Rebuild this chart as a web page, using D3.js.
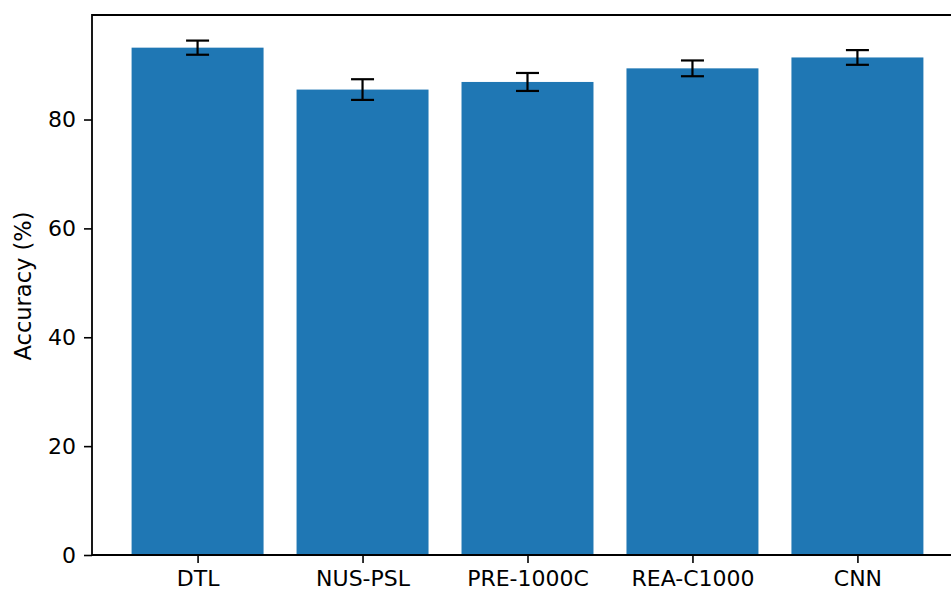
<!DOCTYPE html>
<html>
<head>
<meta charset="utf-8">
<script src="https://cdn.jsdelivr.net/npm/d3@7"></script>
<style>
  body { margin: 0; background: #fff; }
  svg { display: block; font-family: "DejaVu Sans", sans-serif; }
</style>
</head>
<body>
<svg id="vis" width="951" height="590"></svg>
<script>
// data
const methods = ["DTL", "NUS-PSL", "PRE-1000C", "REA-C1000", "CNN"];
const accuracy = [93.2, 85.5, 86.9, 89.4, 91.4];
const errors = [1.3, 1.9, 1.65, 1.45, 1.35];
const yTicks = [0, 20, 40, 60, 80];

const svg = d3.select("#vis");
const plotLeft = 92, plotTop = 15, plotBottom = 555;

// x scale in category units, like matplotlib's bar positions
const x = d3.scaleLinear()
  .domain([-0.64, 4.64])
  .range([plotLeft, plotLeft + 871]);

const y = d3.scaleLinear()
  .domain([0, 99.2])
  .range([plotBottom, plotTop]);

const barW = x(0.4) - x(-0.4);

// bars
svg.append("g")
  .selectAll("rect")
  .data(methods)
  .join("rect")
  .attr("x", (d, i) => x(i) - barW / 2)
  .attr("width", barW)
  .attr("y", (d, i) => y(accuracy[i]))
  .attr("height", (d, i) => plotBottom - y(accuracy[i]))
  .style("fill", "#1f77b4");

// error bars
const eb = svg.append("g")
  .selectAll("g")
  .data(methods)
  .join("g")
  .attr("stroke", "#000")
  .attr("stroke-width", 2.2);

eb.append("line")
  .attr("x1", (d, i) => x(i)).attr("x2", (d, i) => x(i))
  .attr("y1", (d, i) => y(accuracy[i] - errors[i]))
  .attr("y2", (d, i) => y(accuracy[i] + errors[i]));

eb.selectAll(".cap")
  .data((d, i) => [[i, -1], [i, 1]])
  .join("line")
  .attr("class", "cap")
  .attr("x1", d => x(d[0]) - 11.5).attr("x2", d => x(d[0]) + 11.5)
  .attr("y1", d => y(accuracy[d[0]] + d[1] * errors[d[0]]))
  .attr("y2", d => y(accuracy[d[0]] + d[1] * errors[d[0]]));

// axes
const xAxis = d3.axisBottom(x)
  .tickValues(d3.range(methods.length))
  .tickFormat(i => methods[i])
  .tickSize(8)
  .tickPadding(7);

const yAxis = d3.axisLeft(y)
  .tickValues(yTicks)
  .tickSize(8)
  .tickPadding(8);

const gx = svg.append("g")
  .attr("transform", `translate(0,${plotBottom})`)
  .call(xAxis);

const gy = svg.append("g")
  .attr("transform", `translate(${plotLeft},0)`)
  .call(yAxis);

[gx, gy].forEach(g => {
  g.select(".domain").remove();
  g.selectAll(".tick line").attr("stroke", "#000").attr("stroke-width", 1.6);
  g.selectAll("text")
    .attr("fill", "#000")
    .style("font-size", "22px")
    .style("font-family", "DejaVu Sans, sans-serif");
});

// spines
svg.append("path")
  .attr("d", `M${x(4.64)},${plotTop}H${plotLeft}V${plotBottom}H${x(4.64)}`)
  .attr("fill", "none")
  .attr("stroke", "#000")
  .attr("stroke-width", 1.8);

// y label
svg.append("text")
  .attr("transform", `translate(31,286) rotate(-90)`)
  .attr("text-anchor", "middle")
  .style("font-size", "22.5px")
  .text("Accuracy (%)");
</script>
</body>
</html>
